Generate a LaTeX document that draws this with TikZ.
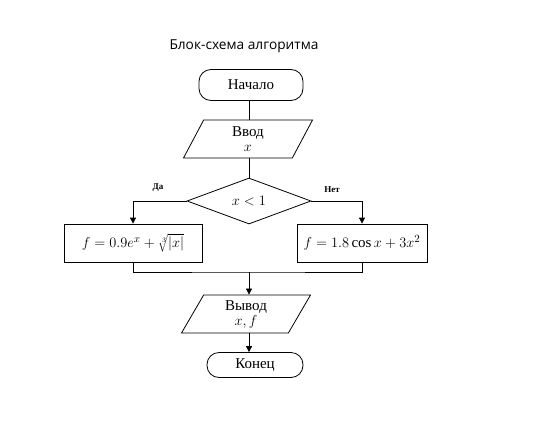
\documentclass[tikz,border=0pt]{standalone}
\usepackage{fontspec}
\setmainfont{Liberation Serif}
\newfontfamily\titlefont{Open Sans}
\usetikzlibrary{arrows.meta,shapes.geometric,calc}
\tikzset{
  blk/.style={draw, thick, align=center, inner sep=2pt,
    font=\fontsize{15}{15}\selectfont},
  term/.style={blk, rounded corners=12pt},
  io/.style={blk, trapezium, trapezium left angle=55, trapezium right angle=125,
    trapezium stretches body, minimum height=38pt},
  cond/.style={blk, diamond, minimum width=124pt, minimum height=46pt, inner sep=0pt},
  calc/.style={blk, rectangle, minimum height=38pt},
  lbl/.style={font=\small\bfseries},
  flow/.style={-{Triangle[length=6pt, width=6pt]}, thick},
}

\begin{document}
\begin{tikzpicture}[x=1pt, y=-1pt]
  \useasboundingbox[fill=white] (0,0) rectangle (553,420);
  \node[font=\titlefont\fontsize{13.7}{15}\selectfont] (title) at (244,46) {Блок-схема алгоритма};
  \node[term, minimum width=104pt, minimum height=31pt] (start) at (251,85) {Начало};
  \node[io, minimum width=129pt] (in) at (248,139) {Ввод\\$x$};
  \node[cond] (c) at (249,201) {$x<1$};
  \node[calc, minimum width=138pt] (yes) at (133,243) {$f=0.9e^x+\sqrt[3]{|x|}$};
  \node[calc, minimum width=130pt] (no) at (362,243) {$f=1.8\cos x+3x^2$};
  \coordinate (m) at (249,272);
  \node[io, minimum width=129pt] (out) at (246,314) {Вывод\\$x,f$};
  \node[term, minimum width=96pt, minimum height=25pt] (end) at (255,365) {Конец};
  \node[lbl] (da) at (158,188) {Да};
  \node[lbl] (net) at (332,190) {Нет};
  % connections
  \draw[thick] (c.north |- start.south) -- (c.north |- in.north);
  \draw[thick] (c.north |- in.south) -- (c.north);
  \draw[flow] (c.west) -| (yes.north);
  \draw[flow] (c.east) -| (no.north);
  \draw[thick] (yes.south) |- (m) -| (no.south);
  \draw[flow] (m) -- (m |- out.north);
  \draw[flow] (m |- out.south) -- (m |- end.north);
\end{tikzpicture}
\end{document}
